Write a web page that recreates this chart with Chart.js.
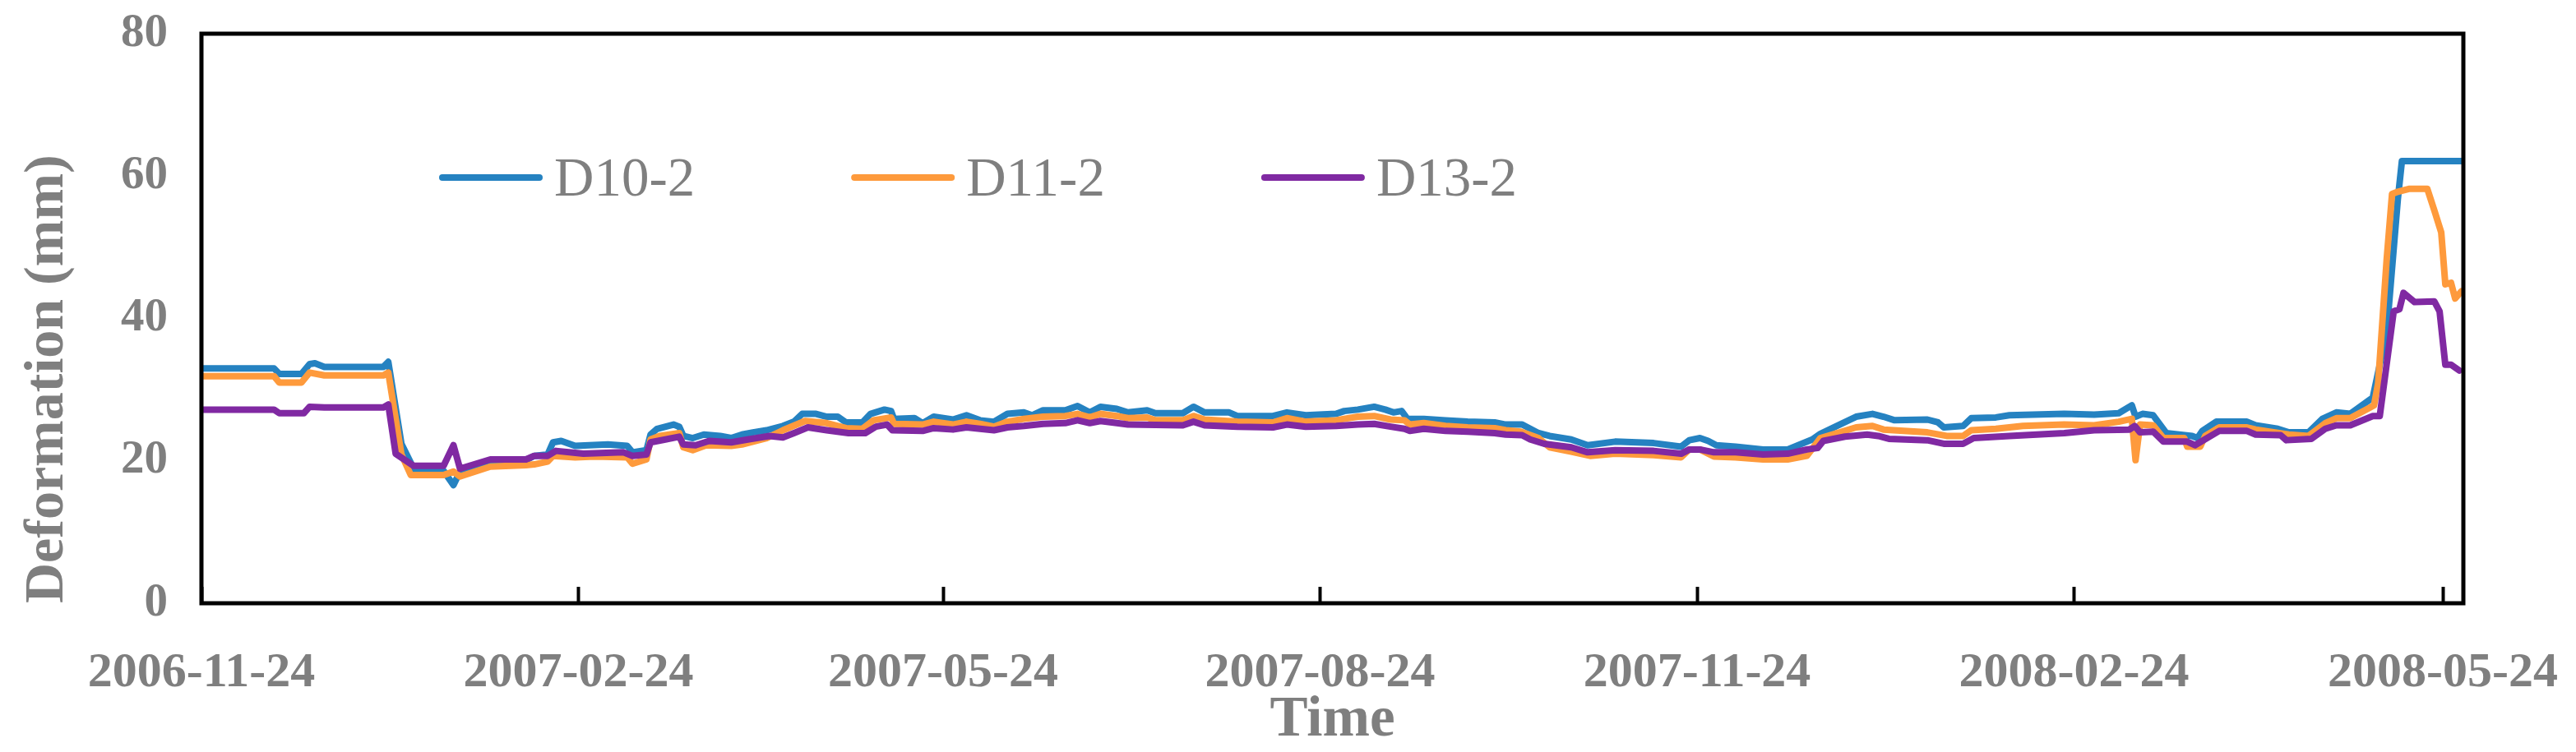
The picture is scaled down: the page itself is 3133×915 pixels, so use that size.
<!DOCTYPE html>
<html>
<head>
<meta charset="utf-8">
<title>Deformation</title>
<script src="https://cdn.jsdelivr.net/npm/chart.js@4.4.1/dist/chart.umd.min.js"></script>
<style>
  html, body { margin: 0; padding: 0; background: #fff; }
  canvas { display: block; }
</style>
</head>
<body>
<canvas id="deformation-chart" width="3133" height="915"></canvas>
<script>
// x values are days counted from 2006-11-24
const tickDays = [0, 92, 181, 273, 365, 457, 547];
const tickLabels = ["2006-11-24", "2007-02-24", "2007-05-24", "2007-08-24", "2007-11-24", "2008-02-24", "2008-05-24"];

const d10Days = [0, 17.7, 19.0, 24.4, 26.4, 27.7, 30.0, 44.4, 45.6, 48.8,
  51.8, 59.1, 61.5, 63.1, 70.5, 79.2, 81.2, 84.5, 85.8, 87.8,
  91.2, 99.2, 103.9, 105.2, 108.6, 109.6, 111.2, 115.2, 116.6, 117.6,
  119.9, 122.6, 126.6, 129.3, 131.9, 134.6, 137.9, 141.9, 144.6, 146.6,
  150.0, 152.6, 155.3, 157.3, 161.3, 163.3, 166.7, 168.3, 169.0, 174.0,
  176.0, 178.7, 183.4, 186.7, 190.0, 193.4, 196.7, 200.7, 202.7, 205.4,
  210.8, 213.8, 216.8, 219.4, 223.4, 226.1, 230.8, 232.8, 239.5, 242.1,
  244.8, 250.8, 252.8, 261.5, 264.9, 269.5, 276.9, 278.9, 282.2, 286.2,
  288.9, 290.9, 292.9, 294.3, 298.3, 303.6, 309.0, 315.6, 318.3, 322.3,
  324.3, 326.3, 329.0, 334.3, 338.3, 345.0, 354.4, 361.1, 363.1, 365.7,
  367.7, 369.7, 374.4, 381.1, 387.1, 393.1, 395.1, 399.8, 403.8, 407.8,
  410.5, 413.2, 421.2, 423.8, 425.2, 429.9, 431.9, 437.9, 441.2, 454.6,
  461.9, 467.9, 471.1, 472.0, 473.7, 476.3, 479.5, 485.8, 487.1, 488.3,
  491.7, 499.2, 501.3, 506.7, 509.4, 514.2, 517.6, 521.0, 524.4, 529.9,
  533.3, 536.0, 537.0, 551.5];
const d10Values = [33.0, 33.0, 32.2, 32.2, 33.6, 33.7, 33.2, 33.2, 33.9, 22.4,
  18.9, 18.6, 16.6, 18.5, 20.1, 20.1, 20.7, 20.9, 22.6, 22.8,
  22.1, 22.3, 22.1, 21.2, 21.5, 23.7, 24.5, 25.1, 24.8, 23.5,
  23.2, 23.7, 23.5, 23.2, 23.7, 24.0, 24.3, 24.9, 25.5, 26.6,
  26.6, 26.2, 26.2, 25.4, 25.4, 26.6, 27.2, 27.0, 25.9, 26.0,
  25.3, 26.2, 25.8, 26.4, 25.7, 25.5, 26.6, 26.8, 26.4, 27.1,
  27.1, 27.7, 26.8, 27.6, 27.3, 26.8, 27.1, 26.7, 26.7, 27.6,
  26.8, 26.8, 26.3, 26.3, 26.8, 26.4, 26.6, 27.0, 27.2, 27.6,
  27.2, 26.8, 27.0, 25.9, 25.9, 25.7, 25.5, 25.4, 25.1, 25.1,
  24.5, 23.9, 23.5, 23.0, 22.2, 22.7, 22.5, 22.0, 22.9, 23.2,
  22.8, 22.2, 22.0, 21.6, 21.6, 23.0, 23.8, 25.1, 26.2, 26.6,
  26.2, 25.7, 25.8, 25.4, 24.7, 24.9, 26.0, 26.1, 26.4, 26.6,
  26.5, 26.7, 27.8, 26.2, 26.6, 26.4, 23.9, 23.5, 23.2, 24.2,
  25.5, 25.5, 25.0, 24.5, 24.0, 24.0, 25.9, 26.8, 26.6, 28.9,
  38.1, 56.7, 62.1, 62.1];

const d11Days = [0, 17.7, 19.0, 24.4, 26.4, 30.0, 44.4, 45.6, 48.8, 51.1,
  59.1, 61.5, 63.1, 70.5, 79.2, 81.2, 84.5, 85.8, 91.2, 96.0,
  103.9, 105.2, 108.6, 109.6, 111.8, 116.6, 117.6, 119.9, 123.2, 129.3,
  131.9, 137.9, 141.9, 147.3, 152.6, 157.3, 161.3, 164.0, 168.3, 169.0,
  176.0, 178.7, 183.4, 186.7, 190.0, 193.4, 196.7, 200.7, 205.4, 210.8,
  213.8, 216.8, 219.4, 223.4, 226.1, 230.8, 232.8, 239.5, 242.1, 244.8,
  252.8, 261.5, 264.9, 269.5, 276.9, 278.9, 282.2, 286.2, 290.2, 293.6,
  294.9, 298.3, 303.6, 309.0, 315.6, 318.3, 322.0, 326.3, 329.0, 334.3,
  338.9, 345.0, 354.4, 361.1, 363.1, 365.7, 369.1, 374.4, 381.1, 387.1,
  391.8, 395.1, 399.8, 403.8, 407.8, 410.5, 421.2, 425.9, 429.9, 431.9,
  437.9, 444.5, 454.6, 461.9, 467.9, 471.1, 472.0, 473.1, 476.3, 478.8,
  483.9, 484.6, 487.8, 489.0, 492.4, 499.2, 501.3, 509.4, 514.2, 518.3,
  521.0, 524.4, 530.2, 531.2, 533.3, 534.6, 536.0, 538.7, 543.2, 544.9,
  546.6, 547.6, 549.0, 550.0, 551.5];
const d11Values = [31.9, 31.9, 31.0, 31.0, 32.4, 32.0, 32.0, 32.4, 20.9, 18.0,
  18.0, 18.5, 17.8, 19.2, 19.4, 19.5, 19.9, 20.7, 20.5, 20.6,
  20.5, 19.6, 20.2, 23.0, 23.5, 23.9, 21.9, 21.5, 22.2, 22.1,
  22.3, 23.2, 24.3, 25.6, 25.3, 24.6, 24.5, 25.7, 26.1, 25.2,
  25.1, 25.5, 25.1, 25.5, 25.2, 24.8, 25.5, 25.9, 26.2, 26.3,
  26.6, 26.1, 26.6, 26.3, 26.0, 26.1, 25.7, 25.7, 26.3, 25.8,
  25.5, 25.4, 26.0, 25.5, 25.7, 25.9, 26.2, 26.3, 25.8, 25.7,
  25.1, 25.3, 24.9, 24.7, 24.6, 24.3, 24.1, 23.2, 21.9, 21.3,
  20.7, 21.0, 20.8, 20.5, 21.6, 21.6, 20.6, 20.5, 20.2, 20.2,
  20.7, 23.2, 24.0, 24.7, 24.9, 24.4, 24.0, 23.5, 23.5, 24.3,
  24.5, 24.9, 25.1, 25.0, 25.5, 25.9, 20.1, 25.1, 25.0, 23.2,
  23.2, 22.0, 22.0, 23.5, 24.7, 24.7, 24.4, 23.7, 23.5, 25.3,
  26.0, 26.0, 27.8, 30.9, 48.4, 57.5, 57.8, 58.2, 58.2, 55.2,
  52.1, 44.8, 45.0, 42.8, 43.8];

const d13Days = [0, 17.7, 19.0, 25.0, 26.4, 30.0, 44.4, 45.6, 47.4, 51.8,
  59.1, 61.5, 63.1, 70.5, 79.2, 81.2, 84.5, 86.5, 93.2, 103.0,
  105.2, 108.6, 109.6, 113.2, 116.6, 117.6, 120.6, 123.9, 129.3, 133.3,
  138.6, 141.9, 144.6, 148.0, 152.6, 157.9, 162.0, 164.6, 167.3, 168.6,
  176.0, 178.7, 183.4, 186.7, 190.0, 193.4, 196.7, 200.7, 205.4, 210.8,
  213.8, 216.8, 219.4, 223.4, 226.1, 239.5, 242.1, 244.8, 252.8, 261.5,
  264.9, 269.5, 276.9, 282.2, 286.2, 290.2, 293.6, 294.9, 298.3, 303.6,
  309.0, 315.6, 318.3, 322.3, 324.3, 327.7, 334.3, 338.3, 345.0, 354.4,
  361.1, 363.1, 365.7, 369.1, 374.4, 381.1, 387.1, 391.8, 394.4, 395.8,
  401.1, 406.5, 409.2, 411.8, 421.2, 425.2, 429.9, 432.5, 441.2, 454.6,
  461.9, 470.5, 471.8, 473.1, 476.3, 478.8, 484.6, 486.5, 492.4, 499.2,
  501.3, 507.4, 508.8, 514.9, 518.3, 521.0, 524.4, 529.9, 531.6, 535.0,
  536.4, 537.4, 540.1, 544.9, 546.2, 547.6, 549.0, 551.0];
const d13Values = [27.2, 27.2, 26.7, 26.7, 27.6, 27.5, 27.5, 27.9, 21.0, 19.3,
  19.3, 22.2, 18.9, 20.2, 20.2, 20.7, 20.7, 21.4, 21.0, 21.2,
  20.7, 20.9, 22.6, 23.0, 23.4, 22.3, 22.2, 22.8, 22.6, 23.0,
  23.5, 23.3, 23.9, 24.7, 24.3, 23.9, 23.9, 24.8, 25.1, 24.3,
  24.2, 24.6, 24.4, 24.7, 24.5, 24.3, 24.7, 24.9, 25.2, 25.3,
  25.7, 25.3, 25.6, 25.3, 25.1, 25.0, 25.5, 25.0, 24.8, 24.7,
  25.1, 24.8, 24.9, 25.1, 25.2, 24.8, 24.5, 24.2, 24.5, 24.2,
  24.1, 23.9, 23.7, 23.6, 23.0, 22.4, 21.9, 21.2, 21.5, 21.4,
  21.0, 21.6, 21.6, 21.2, 21.2, 20.9, 21.0, 21.6, 21.8, 22.8,
  23.4, 23.7, 23.5, 23.1, 22.9, 22.4, 22.4, 23.2, 23.5, 23.9,
  24.3, 24.4, 24.9, 24.0, 24.1, 22.7, 22.7, 22.2, 24.2, 24.2,
  23.7, 23.6, 22.9, 23.1, 24.5, 25.0, 25.0, 26.3, 26.3, 41.0,
  41.3, 43.6, 42.3, 42.4, 41.0, 33.5, 33.5, 32.7];

const GREY = "#7f7f7f";
const SERIF = "'Liberation Serif', 'Times New Roman', serif";

function toPoints(days, values) {
  return days.map((d, i) => ({ x: d, y: values[i] }));
}

function lineDataset(label, days, values, color, order) {
  return {
    label,
    data: toPoints(days, values),
    borderColor: color,
    backgroundColor: color,
    borderWidth: 8,
    borderJoinStyle: "round",
    borderCapStyle: "round",
    pointRadius: 0,
    tension: 0,
    order,
  };
}

// black box around the plot area
const framePlugin = {
  id: "frame",
  afterDraw(chart) {
    const { ctx, chartArea: a } = chart;
    ctx.save();
    ctx.strokeStyle = "#000";
    ctx.lineWidth = 5;
    ctx.strokeRect(a.left, a.top, a.right - a.left, a.bottom - a.top);
    ctx.restore();
  },
};

// legend drawn inside the plot, one row
const insideLegendPlugin = {
  id: "insideLegend",
  afterDraw(chart) {
    const { ctx, chartArea: a } = chart;
    const lineLen = 126;
    const y = a.top + 175;
    let x = a.left + 289;
    ctx.save();
    ctx.font = `67px ${SERIF}`;
    ctx.textBaseline = "alphabetic";
    chart.data.datasets.forEach(ds => {
      ctx.strokeStyle = ds.borderColor;
      ctx.lineWidth = 8;
      ctx.lineCap = "round";
      ctx.beginPath();
      ctx.moveTo(x + 4, y);
      ctx.lineTo(x + lineLen - 4, y);
      ctx.stroke();
      ctx.fillStyle = GREY;
      ctx.fillText(ds.label, x + lineLen + 14, y + 22);
      x += lineLen + 14 + ctx.measureText(ds.label).width + 190;
    });
    ctx.restore();
  },
};

function createChart() {
  const ctx = document.getElementById("deformation-chart").getContext("2d");

  return new Chart(ctx, {
    type: "line",
    data: {
      datasets: [
        lineDataset("D10-2", d10Days, d10Values, "#2582c1", 3),
        lineDataset("D11-2", d11Days, d11Values, "#fe9a3c", 2),
        lineDataset("D13-2", d13Days, d13Values, "#8029a2", 1),
      ],
    },
    options: {
      responsive: false,
      animation: false,
      devicePixelRatio: 1,
      layout: { padding: { left: 0, right: 137, top: 41, bottom: 0 } },
      plugins: {
        legend: { display: false },
        tooltip: { enabled: false },
      },
      scales: {
        x: {
          type: "linear",
          min: 0,
          max: 552,
          afterBuildTicks: scale => {
            scale.ticks = tickDays.map(value => ({ value }));
          },
          afterFit: scale => {
            scale.height = 181;
            scale.paddingLeft = 0;
            scale.paddingRight = 0;
          },
          grid: {
            display: true,
            drawOnChartArea: false,
            drawTicks: true,
            tickLength: -20,
            tickWidth: 4,
            tickColor: "#000",
          },
          border: { display: false },
          ticks: {
            autoSkip: false,
            maxRotation: 0,
            padding: 69,
            color: GREY,
            font: { family: SERIF, size: 60, weight: "bold" },
            callback: value => tickLabels[tickDays.indexOf(value)],
          },
          title: {
            display: true,
            text: "Time",
            color: GREY,
            padding: { top: 0, bottom: 3 },
            font: { family: SERIF, size: 69, weight: "bold", lineHeight: 1.0 },
          },
        },
        y: {
          min: 0,
          max: 80,
          afterFit: scale => {
            scale.width = 245;
            scale.paddingTop = 0;
            scale.paddingBottom = 0;
          },
          grid: { display: false, drawTicks: false },
          border: { display: false },
          ticks: {
            stepSize: 20,
            padding: 41,
            color: GREY,
            font: { family: SERIF, size: 57, weight: "bold" },
          },
          title: {
            display: true,
            text: "Deformation (mm)",
            align: "start",
            color: GREY,
            padding: { top: 18, bottom: 0 },
            font: { family: SERIF, size: 68, weight: "bold" },
          },
        },
      },
    },
    plugins: [framePlugin, insideLegendPlugin],
  });
}

document.addEventListener("DOMContentLoaded", () => {
  createChart();
});
</script>
</body>
</html>
